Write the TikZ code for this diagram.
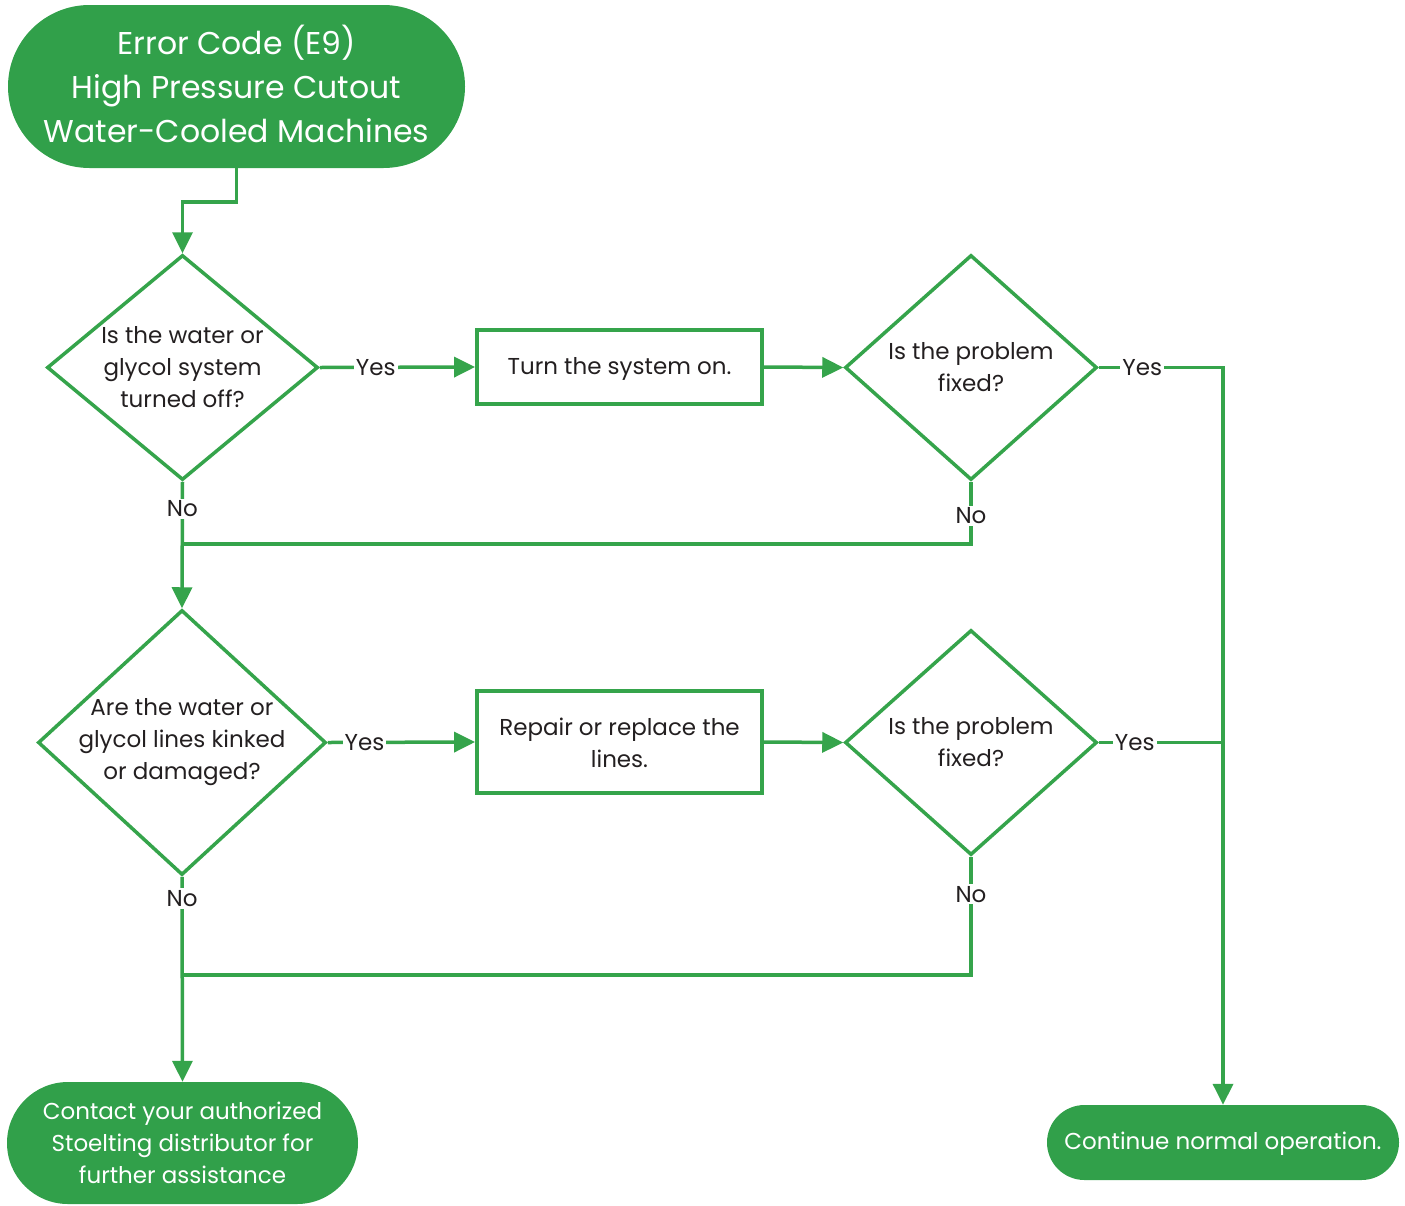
\documentclass[tikz,border=0pt]{standalone}
\usepackage{fontspec}
\setmainfont{Poppins}
\usetikzlibrary{shapes.geometric,shapes.misc,arrows.meta}
\definecolor{gfill}{HTML}{31A04A}
\definecolor{gline}{HTML}{35A44B}
\definecolor{txtc}{HTML}{231F20}
\tikzset{
  term/.style={rounded rectangle, fill=gfill, draw=none, text=white, align=center, inner sep=0pt},
  dia/.style={diamond, draw=gline, line width=3.5pt, inner sep=0pt, minimum width=252pt, minimum height=225pt},
  boxn/.style={rectangle, draw=gline, line width=3.8pt, minimum width=285pt, align=center, inner sep=0pt},
  txt/.style={text=txtc, align=center, font=\fontsize{23}{32}\selectfont},
  wtxt/.style={text=white, align=center, font=\fontsize{23}{32}\selectfont},
  conn/.style={draw=gline, line width=3.5pt},
  arr/.style={conn, -{Triangle[length=21pt,width=20pt]}},
  lbl/.style={fill=white, text=txtc, inner sep=2pt, font=\fontsize{23}{28}\selectfont}
}
\begin{document}
\begin{tikzpicture}[x=1pt,y=-1pt]
\useasboundingbox (0,0) rectangle (1405,1205);
% terminals
\node[term, minimum width=457pt, minimum height=163pt] (t1) at (236.5,86.5) {};
\node[wtxt, font=\fontsize{31.5}{44}\selectfont] (t1t) at (236.5,84) {Error Code (E9)\\High Pressure Cutout\\Water-Cooled Machines};
\node[term, minimum width=351pt, minimum height=122pt] (t2) at (182.5,1143) {};
\node[wtxt] (t2t) at (182.5,1142.5) {Contact your authorized\\Stoelting distributor for\\further assistance};
\node[term, minimum width=352pt, minimum height=75pt] (t3) at (1223,1142.5) {};
\node[wtxt] (t3t) at (1223,1144) {Continue normal operation.};
% diamonds
\node[dia, minimum width=271pt, minimum height=225pt] (d1) at (182.5,367.5) {};
\node[txt] (d1t) at (182.5,367.5) {Is the water or\\glycol system\\turned off?};
\node[dia] (d2) at (971,367.5) {};
\node[txt] (d2t) at (971,367.5) {Is the problem\\fixed?};
\node[dia, minimum width=288pt, minimum height=265pt] (d3) at (182,742.5) {};
\node[txt] (d3t) at (182,742.5) {Are the water or\\glycol lines kinked\\or damaged?};
\node[dia] (d4) at (971,742.5) {};
\node[txt] (d4t) at (971,742.5) {Is the problem\\fixed?};
% boxes
\node[boxn, minimum height=74pt] (b1) at (619.5,367) {};
\node[txt] (b1t) at (619.5,369) {Turn the system on.};
\node[boxn, minimum height=102pt] (b2) at (619.5,742) {};
\node[txt] (b2t) at (619.5,743) {Repair or replace the\\lines.};
% coordinates
\coordinate (c0) at (182.5,202);
\coordinate (cy1) at (1223,367.5);
\coordinate (cy2) at (1223,742.5);
\coordinate (cn1) at (971,544);
\coordinate (cn1e) at (182.5,544);
\coordinate (cn2) at (971,975);
\coordinate (cn2e) at (182.5,975);
% connectors
\draw[arr] (t1.south) |- (c0) -- (d1.north);
\draw[arr] (d1.east) -- node[lbl, pos=0.36]{Yes} (b1.west);
\draw[arr] (b1.east) -- (d2.west);
\draw[arr] (d2.east) -- node[lbl, pos=0.35]{Yes} (cy1) -- (t3.north);
\draw[conn] (d4.east) -- node[lbl, pos=0.29]{Yes} (cy2);
\draw[arr] (d1.south) -- node[lbl, pos=0.215]{No} (d3.north);
\draw[conn] (d2.south) -- node[lbl, pos=0.55]{No} (cn1) -- (cn1e);
\draw[arr] (d3.east) -- node[lbl, pos=0.25]{Yes} (b2.west);
\draw[arr] (b2.east) -- (d4.west);
\draw[arr] (d3.south) -- node[lbl, pos=0.106]{No} (t2.north);
\draw[conn] (d4.south) -- node[lbl, pos=0.317]{No} (cn2) -- (cn2e);
\end{tikzpicture}
\end{document}
